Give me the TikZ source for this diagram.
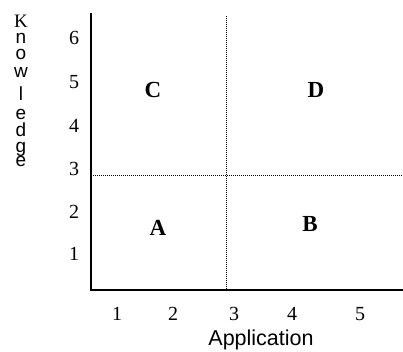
\documentclass[tikz,border=0pt]{standalone}
\usepackage{fontspec}
\setmainfont{Liberation Serif}
\newfontfamily\arialfont{Liberation Sans}
\tikzset{
  axis/.style={line width=1.5pt, line join=miter},
  divider/.style={line width=1pt, dash pattern=on 1pt off 1pt},
  ticklabel/.style={inner sep=0pt, font=\fontsize{20}{24}\selectfont},
  quadlabel/.style={inner sep=0pt, font=\fontsize{23}{27}\selectfont\bfseries},
  axistitle/.style={inner sep=0pt, font=\arialfont\fontsize{21.5}{25}\selectfont},
  vletter/.style={inner sep=0pt, anchor=base, font=\arialfont\fontsize{19}{21}\selectfont}
}
\begin{document}
\begin{tikzpicture}[x=1pt,y=-1pt]
  \useasboundingbox (0,0) rectangle (403,351);
  % axes
  \coordinate (ytop) at (91,13);
  \coordinate (origin) at (91,290);
  \coordinate (xend) at (403,290);
  \draw[axis] (ytop) -- (origin) -- (xend);
  % quadrant dividers
  \coordinate (hl) at (91,175);
  \coordinate (hr) at (403,175);
  \coordinate (vt) at (226,16);
  \coordinate (vb) at (226,290);
  \draw[divider] (hl) -- (hr);
  \draw[divider] (vt) -- (vb);
  % y tick labels
  \node[ticklabel] (y6) at (74,38) {6};
  \node[ticklabel] (y5) at (74,82) {5};
  \node[ticklabel] (y4) at (74,126) {4};
  \node[ticklabel] (y3) at (74,169) {3};
  \node[ticklabel] (y2) at (74,212) {2};
  \node[ticklabel] (y1) at (74,254) {1};
  % x tick labels
  \node[ticklabel] (x1) at (117,314) {1};
  \node[ticklabel] (x2) at (173,314) {2};
  \node[ticklabel] (x3) at (234,314) {3};
  \node[ticklabel] (x4) at (292,314) {4};
  \node[ticklabel] (x5) at (360,314) {5};
  % quadrant labels
  \node[quadlabel] (qC) at (153,90) {C};
  \node[quadlabel] (qD) at (316,90) {D};
  \node[quadlabel] (qA) at (158,228) {A};
  \node[quadlabel] (qB) at (310,224) {B};
  % axis titles
  \node[axistitle] (xtitle) at (261,340) {Application};
  % vertical y-axis title, one letter per line
  \node[vletter, font=\fontsize{19}{21}\selectfont] (k1) at (21,27) {K};
  \node[vletter] (k2) at (21,43) {n};
  \node[vletter] (k3) at (21,59) {o};
  \node[vletter] (k4) at (21,77) {w};
  \node[vletter] (k5) at (21,100) {l};
  \node[vletter] (k6) at (21,119) {e};
  \node[vletter] (k7) at (21,136) {d};
  \node[vletter] (k8) at (21,152) {g};
  \node[vletter] (k9) at (21,166) {e};
\end{tikzpicture}
\end{document}
